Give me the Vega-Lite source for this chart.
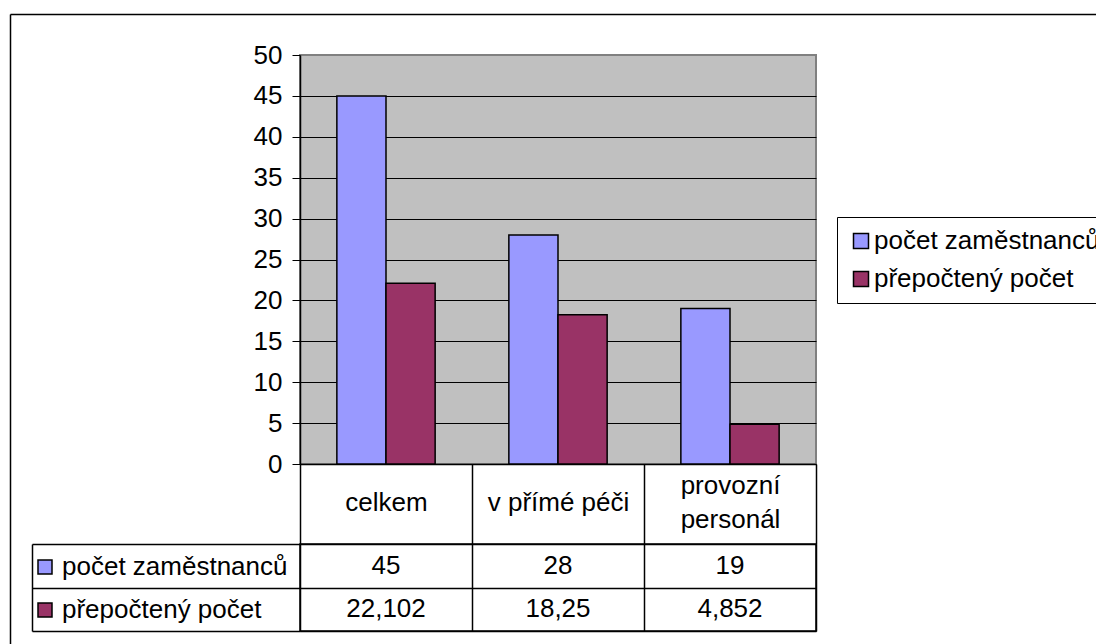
{
  "$schema": "https://vega.github.io/schema/vega-lite/v6.json",
  "autosize": {"type": "none"},
  "padding": {"left": 300, "top": 55, "right": 796, "bottom": 589},
  "background": "white",
  "config": {
    "font": "Liberation Sans",
    "locale": {"number": {"decimal": ",", "thousands": " ", "grouping": [3], "currency": ["", " Kč"]}},
    "axis": {"labelFont": "Liberation Sans", "labelFontSize": 26, "labelColor": "black"},
    "legend": {"labelFont": "Liberation Sans", "labelFontSize": 26, "labelColor": "black"},
    "text": {"font": "Liberation Sans", "fontSize": 26, "color": "black"}
  },
  "datasets": {
    "zam": [
      {"kategorie": "celkem", "ukazatel": "počet zaměstnanců", "hodnota": 45},
      {"kategorie": "celkem", "ukazatel": "přepočtený počet", "hodnota": 22.102},
      {"kategorie": "v přímé péči", "ukazatel": "počet zaměstnanců", "hodnota": 28},
      {"kategorie": "v přímé péči", "ukazatel": "přepočtený počet", "hodnota": 18.25},
      {"kategorie": "provozní personál", "ukazatel": "počet zaměstnanců", "hodnota": 19},
      {"kategorie": "provozní personál", "ukazatel": "přepočtený počet", "hodnota": 4.852}
    ]
  },
  "bounds": "flush",
  "spacing": 80,
  "resolve": {"scale": {"fill": "shared"}, "legend": {"fill": "independent"}},
  "vconcat": [
    {
      "width": 516,
      "height": 409,
      "view": {"fill": "#C0C0C0", "stroke": "#808080", "strokeWidth": 2},
      "data": {"name": "zam"},
      "layer": [
        {
          "mark": {"type": "bar", "stroke": "black", "strokeWidth": 1.5},
          "encoding": {
            "x": {
              "field": "kategorie", "type": "nominal", "sort": null, "title": null,
              "scale": {"paddingInner": 0, "paddingOuter": 0},
              "axis": {
                "orient": "bottom", "domainColor": "black", "domainWidth": 1.5,
                "ticks": true, "tickColor": "black", "tickWidth": 1.5, "tickSize": 80, "tickBand": "extent",
                "labelAngle": 0,
                "labelPadding": {"condition": {"test": "length(datum.label) > 14", "value": -59}, "value": -42},
                "labelBaseline": "middle", "labelLineHeight": 34,
                "labelExpr": "length(datum.label) > 14 ? split(datum.label, ' ') : datum.label",
                "labelLimit": 0, "labelOverlap": false, "labelBound": false, "grid": false
              }
            },
            "xOffset": {"field": "ukazatel", "type": "nominal", "sort": null, "scale": {"paddingInner": 0, "paddingOuter": 0.75}},
            "y": {
              "field": "hodnota", "type": "quantitative", "title": null,
              "scale": {"domain": [0, 50], "nice": false},
              "axis": {
                "values": [0, 5, 10, 15, 20, 25, 30, 35, 40, 45, 50],
                "grid": true,
                "gridColor": {"condition": {"test": "datum.value === 50", "value": "#808080"}, "value": "black"},
                "gridWidth": 1,
                "domainColor": "black", "domainWidth": 1.5,
                "tickColor": "black", "tickSize": 8, "tickWidth": 1,
                "labelPadding": 10, "format": "d"
              }
            },
            "fill": {
              "field": "ukazatel", "type": "nominal", "sort": null,
              "scale": {"range": ["#9999FF", "#993366"]},
              "legend": {
                "title": null, "orient": "none", "legendX": 537, "legendY": 162,
                "strokeColor": "black", "fillColor": "white", "padding": 11,
                "symbolType": "square", "symbolSize": 225, "symbolStrokeColor": "black", "symbolStrokeWidth": 1.5,
                "labelOffset": 0, "rowPadding": 12, "labelLimit": 0
              }
            }
          }
        },
        {
          "mark": {"type": "point", "opacity": 0},
          "encoding": {
            "x": {
              "field": "hodnota", "type": "quantitative",
              "scale": {"domain": [0, 1], "range": [-290, 800], "nice": false, "zero": false},
              "axis": {"orient": "top", "offset": 41, "title": null, "labels": false, "ticks": false, "grid": false, "domainColor": "black", "domainWidth": 1.5}
            },
            "y": {
              "field": "hodnota", "type": "quantitative",
              "scale": {"domain": [0, 1], "range": [589, -41], "nice": false, "zero": false},
              "axis": {"orient": "left", "offset": 290, "title": null, "labels": false, "ticks": false, "grid": false, "domainColor": "black", "domainWidth": 1.5}
            }
          }
        }
      ],
      "resolve": {"scale": {"x": "independent", "y": "independent"}, "axis": {"x": "independent", "y": "independent"}}
    },
    {
      "width": 516,
      "height": 87,
      "view": {"fill": "white", "stroke": "black", "strokeWidth": 1.5},
      "data": {"name": "zam"},
      "encoding": {
        "x": {
          "field": "kategorie", "type": "nominal", "sort": null, "title": null,
          "scale": {"paddingInner": 0, "paddingOuter": 0},
          "axis": {"grid": true, "gridColor": "black", "gridWidth": 1.5, "tickBand": "extent", "labels": false, "ticks": false, "domain": false}
        },
        "y": {
          "field": "ukazatel", "type": "nominal", "sort": null, "title": null,
          "scale": {"paddingInner": 0, "paddingOuter": 0},
          "axis": {
            "grid": true, "gridColor": "black", "gridWidth": 1.5, "tickBand": "extent",
            "labels": false, "ticks": true, "tickSize": -268, "tickColor": "black", "tickWidth": 1.5,
            "offset": 268, "domain": true, "domainColor": "black", "domainWidth": 1.5
          }
        }
      },
      "layer": [
        {
          "mark": {"type": "rect", "opacity": 0},
          "encoding": {
            "fill": {
              "field": "ukazatel", "type": "nominal", "sort": null,
              "legend": {
                "title": null, "orient": "none", "legendX": -268, "legendY": 10,
                "padding": 0, "symbolType": "square", "symbolSize": 196, "symbolOpacity": 1,
                "symbolStrokeColor": "black", "symbolStrokeWidth": 1.5,
                "labelOffset": 4, "rowPadding": 17, "labelLimit": 0
              }
            }
          }
        },
        {
          "mark": {"type": "text", "fontSize": 26, "baseline": "middle", "align": "center"},
          "encoding": {"text": {"field": "hodnota", "type": "quantitative", "format": ".3~f"}}
        }
      ]
    }
  ]
}
